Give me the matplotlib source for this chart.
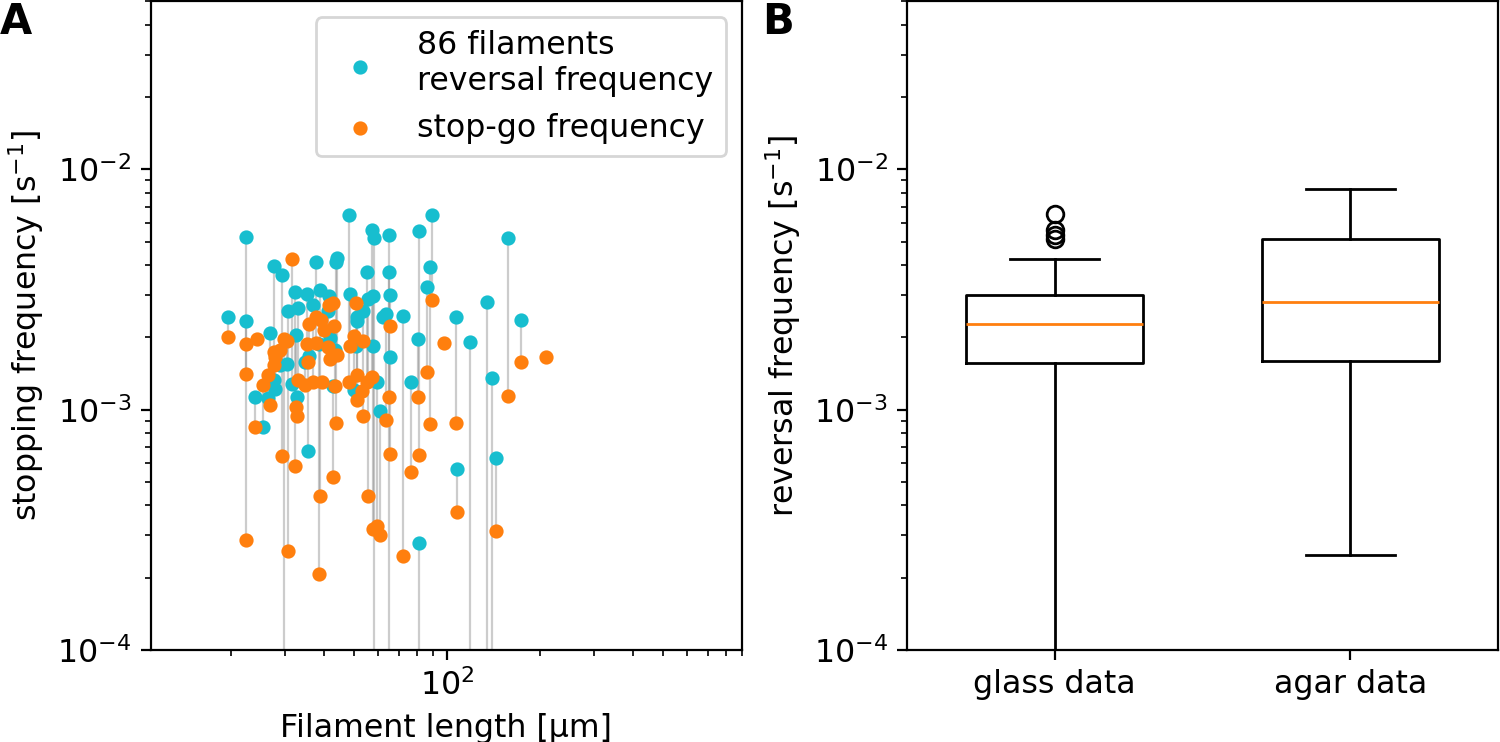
import numpy as np
import matplotlib
matplotlib.use("Agg")
import matplotlib.pyplot as plt

nan = np.nan

# ---- Panel A data: filament length, reversal frequency, stop-go frequency ----
filament_length = [
    19.5, 22.3, 22.4, 22.3, 24.2, 24.0, 25.3, 26.4, 26.8, 27.6,
    27.5, 27.7, 28.9, 29.3, 29.7, 30.4, 30.6, 31.6, 32.3, 32.4,
    32.8, 33.0, 34.8, 35.3, 35.4, 35.8, 36.9, 37.8, 38.9, 38.6,
    37.8, 39.2, 39.3, 40.1, 41.3, 41.6, 41.9, 42.9, 42.9, 43.0,
    43.5, 43.8, 44.2, 48.3, 48.6, 50.1, 50.9, 51.3, 51.2, 53.6,
    53.2, 53.6, 55.2, 55.6, 57.3, 57.7, 57.7, 58.1, 59.5, 60.8,
    62.2, 63.6, 65.0, 65.0, 65.5, 65.5, 72.2, 76.6, 80.8, 81.4,
    81.4, 86.4, 88.3, 89.6, 98.0, 107.2, 108.0, 119.0, 135.0, 140.2,
    144.4, 157.9, 174.0, 209.6,
]
reversal_freq = [
    2.42e-3, 5.21e-3, 2.33e-3, nan, nan, 1.13e-3, 0.850e-3, 1.12e-3, 2.09e-3, 3.98e-3,
    1.33e-3, 1.22e-3, 1.53e-3, 3.65e-3, 0.0, 1.55e-3, 2.58e-3, 1.28e-3, 3.10e-3, 2.05e-3,
    1.13e-3, 2.66e-3, 1.58e-3, 3.04e-3, 0.675e-3, 1.68e-3, 2.74e-3, 4.10e-3, 3.16e-3, 1.87e-3,
    nan, nan, nan, nan, 2.58e-3, 2.96e-3, 1.98e-3, 1.26e-3, nan, nan,
    1.78e-3, 4.10e-3, 4.26e-3, 6.49e-3, 3.04e-3, 1.21e-3, 1.85e-3, 2.44e-3, 2.33e-3, 2.58e-3,
    nan, nan, 3.76e-3, 2.90e-3, 5.57e-3, 2.96e-3, 1.85e-3, 5.16e-3, 1.30e-3, 0.99e-3,
    2.42e-3, 2.51e-3, 5.31e-3, 3.76e-3, 2.99e-3, 1.65e-3, 2.46e-3, 1.30e-3, 1.96e-3, 5.52e-3,
    0.279e-3, 3.25e-3, 3.91e-3, 6.49e-3, nan, 2.44e-3, 0.568e-3, 1.92e-3, 2.82e-3, 1.35e-3,
    0.631e-3, 5.16e-3, 2.37e-3, nan,
]
stopgo_freq = [
    2.01e-3, 0.287e-3, 1.41e-3, 1.87e-3, 1.96e-3, 0.850e-3, 1.27e-3, 1.39e-3, 1.05e-3, 1.53e-3,
    1.74e-3, 1.65e-3, 1.78e-3, 0.643e-3, 1.96e-3, 1.94e-3, 0.258e-3, 4.22e-3, 0.584e-3, 1.03e-3,
    0.944e-3, 1.33e-3, 1.27e-3, 1.87e-3, 1.58e-3, 2.28e-3, 1.31e-3, 1.90e-3, 0.438e-3, 0.207e-3,
    2.44e-3, 2.37e-3, 1.31e-3, 2.15e-3, 1.83e-3, 2.74e-3, 1.62e-3, 0.526e-3, 2.79e-3, 2.22e-3,
    1.26e-3, 0.883e-3, 1.69e-3, 1.30e-3, 1.85e-3, 2.03e-3, 2.77e-3, 1.40e-3, 1.10e-3, 0.944e-3,
    1.20e-3, 1.94e-3, 1.31e-3, 0.438e-3, 1.37e-3, 0.319e-3, nan, 0.0, 0.329e-3, 0.301e-3,
    nan, 0.909e-3, 0.0, 1.13e-3, 2.24e-3, 0.656e-3, 0.246e-3, 0.552e-3, 1.13e-3, 0.649e-3,
    0.0, 1.44e-3, 0.874e-3, 2.87e-3, 1.90e-3, 0.883e-3, 0.376e-3, 0.0, 0.0, 0.0,
    0.313e-3, 1.14e-3, 1.58e-3, 1.65e-3,
]
n_filaments = 86

# ---- Panel B data: box statistics ----
box_labels = ["glass data", "agar data"]
box_median = [2.27e-3, 2.81e-3]
box_q1 = [1.57e-3, 1.59e-3]
box_q3 = [2.99e-3, 5.13e-3]
box_whislo = [0.0, 2.49e-4]
box_whishi = [4.25e-3, 8.31e-3]
glass_outliers = [6.53e-3, 5.57e-3, 5.36e-3, 5.14e-3]
agar_outliers = []

plt.rcParams['font.family'] = ['DejaVu Sans']
plt.rcParams['font.size'] = 11.4
fig = plt.figure(figsize=(7.5, 3.71), dpi=200)

axA = fig.add_axes([0.1005, 0.124, 0.394, 0.874])
axB = fig.add_axes([0.6047, 0.124, 0.394, 0.874])

L = np.array(filament_length)
rv = np.array(reversal_freq)
sg = np.array(stopgo_freq)
m = ~np.isnan(rv) & ~np.isnan(sg)
axA.vlines(L[m], np.minimum(rv[m], sg[m]), np.maximum(rv[m], sg[m]),
           color='grey', alpha=0.4, lw=0.8, zorder=1)
axA.scatter(L, rv, s=17, color='tab:cyan', zorder=2,
            label=f"{n_filaments} filaments\nreversal frequency")
axA.scatter(L, sg, s=17, color='tab:orange', zorder=3,
            label="stop-go frequency")
axA.set_xscale('log')
axA.set_yscale('log')
axA.set_xlim(11, 900)
axA.set_ylim(1e-4, 5e-2)
axA.set_xlabel("Filament length [µm]")
axA.set_ylabel("stopping frequency [s$^{-1}$]")
axA.legend(loc='upper right')

stats = []
outliers = [glass_outliers, agar_outliers]
for i in range(2):
    stats.append(dict(label=box_labels[i], med=box_median[i], q1=box_q1[i],
                      q3=box_q3[i], whislo=box_whislo[i], whishi=box_whishi[i],
                      fliers=outliers[i]))
axB.bxp(stats, positions=[1, 2], widths=0.6)
axB.set_yscale('log')
axB.set_xlim(0.5, 2.5)
axB.set_ylim(1e-4, 5e-2)
axB.set_ylabel("reversal frequency [s$^{-1}$]")

fig.text(0.0, 0.998, "A", ha='left', va='top', fontsize=15, fontweight='bold')
fig.text(0.508, 0.998, "B", ha='left', va='top', fontsize=15, fontweight='bold')

fig.savefig("out.png", dpi=200)
